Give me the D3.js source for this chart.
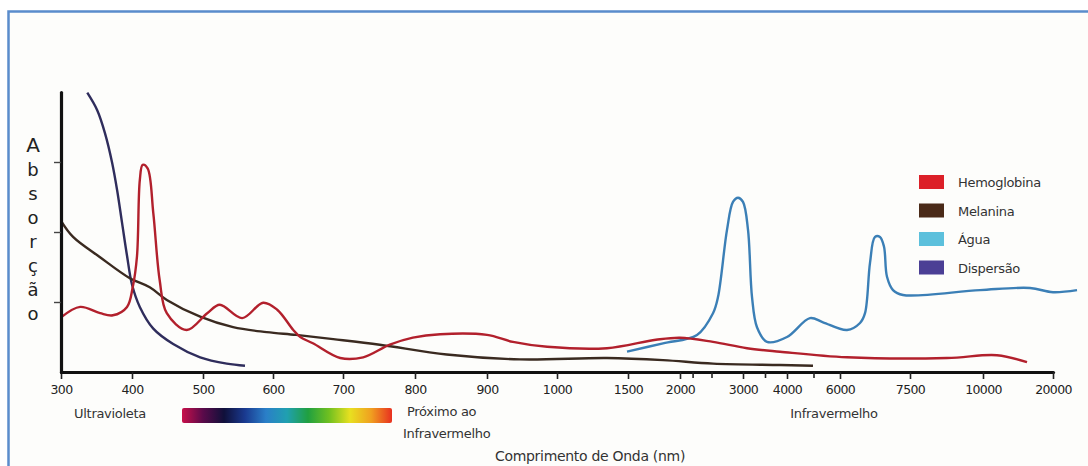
<!DOCTYPE html>
<html>
<head>
<meta charset="utf-8">
<script src="https://cdn.jsdelivr.net/npm/d3@7"></script>
<style>
  body { margin: 0; background: #fff; }
  svg { display: block; font-family: "DejaVu Sans", sans-serif; }
</style>
</head>
<body>
<svg id="chart" width="1088" height="466"></svg>
<script>
// tick labels of the (non uniform) wavelength axis
var tickValues = [300, 400, 500, 600, 700, 800, 900, 1000, 1500, 2000, 3000, 4000, 6000, 7500, 10000, 20000];
var minorTicks = [2200, 2500, 3500, 5000];
var yTicks = [1, 2, 3];

// series: wavelength (nm) / absorption
var hemoglobinaNm  = [300, 327, 355, 373, 393, 401, 407, 411, 415, 422, 430, 439, 449, 477, 506, 524, 556, 586, 606, 629, 639, 657, 696, 728, 765, 797, 835, 900, 937, 986, 1352, 1768, 2000, 2524, 3091, 3841, 6150, 8767, 12000, 16286];
var hemoglobinaAbs = [0.78, 0.93, 0.84, 0.81, 0.93, 1.21, 1.65, 2.74, 2.96, 2.91, 2.27, 1.31, 0.84, 0.6, 0.84, 0.96, 0.77, 0.99, 0.89, 0.6, 0.5, 0.41, 0.2, 0.21, 0.39, 0.49, 0.54, 0.53, 0.43, 0.36, 0.34, 0.46, 0.49, 0.43, 0.34, 0.29, 0.21, 0.2, 0.24, 0.14];

var melaninaNm  = [300, 317, 355, 397, 425, 449, 496, 543, 591, 633, 686, 751, 844, 947, 1352, 1837, 2524, 3841, 4981];
var melaninaAbs = [2.16, 1.93, 1.64, 1.34, 1.21, 1.03, 0.79, 0.64, 0.57, 0.53, 0.47, 0.39, 0.25, 0.18, 0.2, 0.17, 0.12, 0.1, 0.09];

var aguaNm  = [1493, 1837, 2270, 2524, 2603, 2746, 2841, 2921, 3000, 3114, 3205, 3318, 3545, 4000, 4868, 5358, 6150, 6429, 6536, 6643, 6750, 6857, 6943, 7007, 7136, 7350, 9897, 16714, 20000, 23430];
var aguaAbs = [0.29, 0.41, 0.53, 0.84, 1.07, 2.03, 2.43, 2.49, 2.43, 2.03, 1.07, 0.64, 0.43, 0.5, 0.77, 0.71, 0.6, 0.7, 0.84, 1.56, 1.93, 1.93, 1.79, 1.36, 1.17, 1.1, 1.17, 1.2, 1.14, 1.17];

var dispersaoNm  = [337, 351, 362, 372, 379, 386, 393, 400, 411, 430, 458, 496, 534, 560];
var dispersaoAbs = [3.99, 3.74, 3.41, 2.99, 2.6, 2.13, 1.66, 1.25, 0.93, 0.62, 0.4, 0.21, 0.12, 0.09];

var legendNames = ["Hemoglobina", "Melanina", "Água", "Dispersão"];
var yLetters = "Absorção".split("");

var svg = d3.select("#chart");

// frame
svg.append("rect")
  .attr("x", 8.5).attr("y", 11.5)
  .attr("width", 1100).attr("height", 500)
  .attr("fill", "#fdfdfb")
  .attr("stroke", "#5a8ccc")
  .attr("stroke-width", 2.5);

var x0 = 61, yBase = 372, yTop = 92;
// pixel offsets of each labelled tick along the hand drawn axis
var tickOffsets = [0, 71, 142, 212, 282, 354, 426, 496, 567, 619, 682, 726, 779, 849, 922, 992];

var x = d3.scaleLinear()
  .domain(tickValues)
  .range(tickOffsets.map(function (d) { return x0 + d; }));

var y = d3.scaleLinear().domain([0, 4]).range([yBase, yTop]);

// colour bar
var grad = svg.append("defs").append("linearGradient").attr("id", "spec");
var stops = ["#c8104a", "#5a0a4a", "#10103a", "#1a3a90", "#2a7fc8", "#20a0b0", "#20a040", "#70c020", "#e8e020", "#f0a020", "#e83020"];
stops.forEach(function (c, i) {
  grad.append("stop").attr("offset", (i / (stops.length - 1) * 100) + "%").attr("stop-color", c);
});
svg.append("rect")
  .attr("x", 182).attr("y", 408).attr("width", 210).attr("height", 15)
  .attr("rx", 2).attr("fill", "url(#spec)");

// curves
var line = d3.line()
  .x(function (d) { return x(d[0]); })
  .y(function (d) { return y(d[1]); })
  .curve(d3.curveCatmullRom.alpha(0.5));

var series = [
  { nm: dispersaoNm, abs: dispersaoAbs, color: "#2f2d5c" },
  { nm: melaninaNm, abs: melaninaAbs, color: "#3a2a20" },
  { nm: aguaNm, abs: aguaAbs, color: "#3b7fb6" },
  { nm: hemoglobinaNm, abs: hemoglobinaAbs, color: "#b2202c" }
];

series.forEach(function (s) {
  svg.append("path")
    .datum(d3.zip(s.nm, s.abs))
    .attr("fill", "none")
    .attr("stroke", s.color)
    .attr("stroke-width", 2.4)
    .attr("stroke-linejoin", "round")
    .attr("d", line);
});

// axes
var xAxis = svg.append("g")
  .attr("transform", "translate(0," + yBase + ")")
  .call(d3.axisBottom(x).tickValues(tickValues).tickFormat(d3.format("d"))
    .tickSize(7).tickSizeOuter(0).tickPadding(6));
xAxis.select(".domain").attr("stroke", "#111").attr("stroke-width", 3.2).attr("stroke-linecap", "round");
xAxis.selectAll(".tick line").attr("stroke", "#222").attr("stroke-width", 1.6);
xAxis.selectAll(".tick text")
  .attr("font-family", "DejaVu Sans").attr("font-size", 12.5)
  .attr("fill", "#222").attr("letter-spacing", -0.6);

var xMinor = svg.append("g")
  .attr("transform", "translate(0," + yBase + ")")
  .call(d3.axisBottom(x).tickValues(minorTicks).tickFormat("").tickSize(6));
xMinor.select(".domain").remove();
xMinor.selectAll(".tick line").attr("stroke", "#222").attr("stroke-width", 1.6);

var yAxis = svg.append("g")
  .attr("transform", "translate(" + x0 + ",0)")
  .call(d3.axisLeft(y).tickValues(yTicks).tickFormat("").tickSize(7).tickSizeOuter(0));
yAxis.select(".domain").attr("stroke", "#111").attr("stroke-width", 3.2).attr("stroke-linecap", "round");
yAxis.selectAll(".tick line").attr("stroke", "#444").attr("stroke-width", 1.4);

// y label, letters stacked
svg.append("g").selectAll("text")
  .data(yLetters)
  .enter().append("text")
  .attr("x", 33)
  .attr("y", function (d, i) { return 152 + i * 24; })
  .attr("text-anchor", "middle")
  .attr("font-size", function (d, i) { return i === 0 ? 20 : 18; })
  .attr("fill", "#222")
  .text(function (d) { return d; });

// region labels
function label(txt, px, py, anchor, size) {
  svg.append("text")
    .attr("x", px).attr("y", py)
    .attr("text-anchor", anchor || "start")
    .attr("font-size", size || 13)
    .attr("fill", "#333")
    .attr("letter-spacing", -0.3)
    .text(txt);
}
label("Ultravioleta", 110, 418, "middle");
label("Próximo ao", 407, 416);
label("Infravermelho", 403, 438);
label("Infravermelho", 834, 418, "middle");
label("Comprimento de Onda (nm)", 590, 461, "middle", 14);

// legend
var legendColors = ["#dc2028", "#4a2a18", "#5cc0dc", "#4b3f95"];
var legend = svg.append("g").selectAll("g")
  .data(legendNames)
  .enter().append("g")
  .attr("transform", function (d, i) { return "translate(919," + (182 + i * 28.5) + ")"; });
legend.append("rect")
  .attr("x", 0).attr("y", -7).attr("width", 25).attr("height", 14)
  .attr("fill", function (d, i) { return legendColors[i]; });
legend.append("text")
  .attr("x", 39).attr("y", 5)
  .attr("font-size", 13).attr("fill", "#333").attr("letter-spacing", -0.3)
  .text(function (d) { return d; });
</script>
</body>
</html>
